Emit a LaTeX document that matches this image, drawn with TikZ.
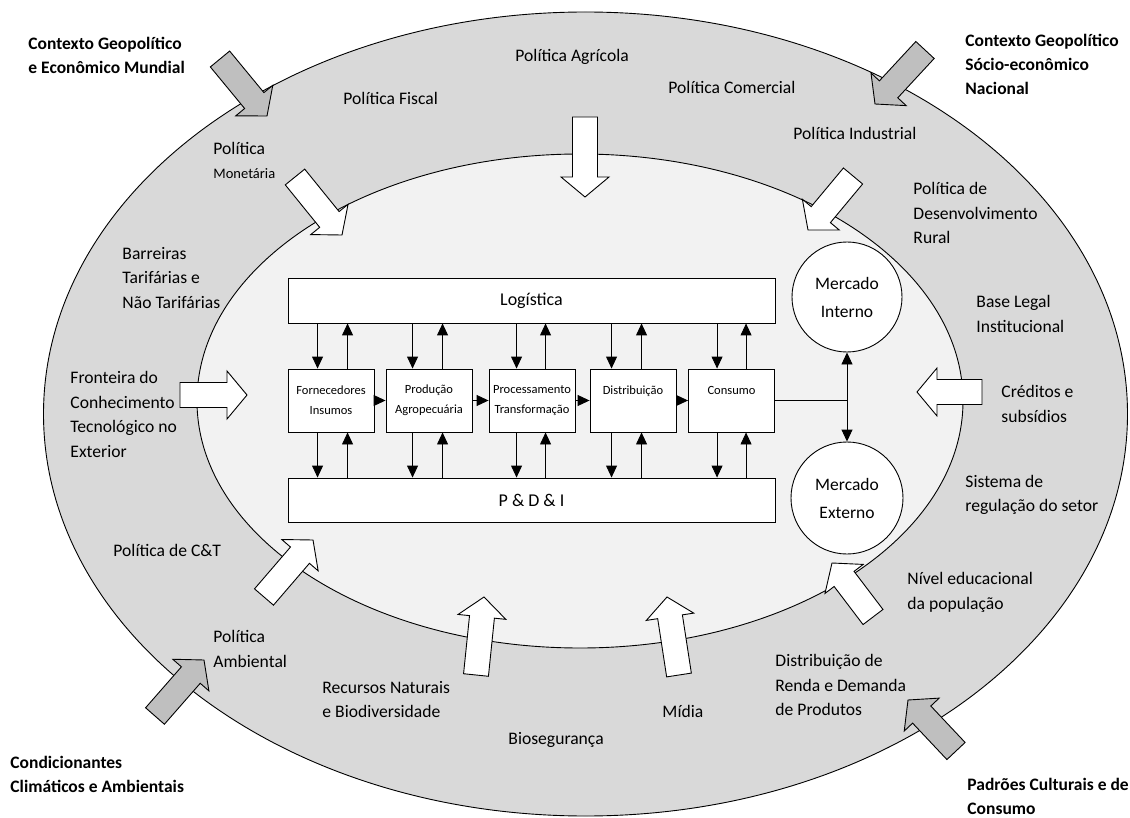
\documentclass[tikz,border=0pt]{standalone}
\usepackage{fontspec}
\setmainfont{Carlito}
\usetikzlibrary{arrows.meta,calc}
\definecolor{ring}{HTML}{D9D9D9}
\definecolor{core}{HTML}{F2F2F2}
\definecolor{garrow}{HTML}{BFBFBF}
\newcommand\myblk[4]{%
  \coordinate (#1-t) at (#3);
  \coordinate (#1-p) at (#4);
  \coordinate (#1-h) at ($(#1-p)!20pt!(#1-t)$);
  \draw[fill=#2, line join=miter]
    ($(#1-t)!12.5pt!90:(#1-p)$) -- ($(#1-h)!12.5pt!90:(#1-p)$) --
    ($(#1-h)!24pt!90:(#1-p)$) -- (#1-p) --
    ($(#1-h)!24pt!-90:(#1-p)$) -- ($(#1-h)!12.5pt!-90:(#1-p)$) --
    ($(#1-t)!12.5pt!-90:(#1-p)$) -- cycle;
}
\begin{document}
\begin{tikzpicture}[x=1pt,y=-1pt, line width=0.9pt,
  lbl/.style={anchor=west, inner sep=0pt, align=left, font=\fontsize{17.6}{24.5}\selectfont},
  blbl/.style={anchor=west, inner sep=0pt, align=left, font=\fontsize{17.5}{24}\selectfont\bfseries},
  cbox/.style={draw, fill=white, minimum width=86pt, minimum height=63pt, inner sep=0pt, align=center, font=\fontsize{12.5}{20}\selectfont},
  wbox/.style={draw, fill=white, minimum width=487pt, minimum height=45pt, inner sep=0pt, font=\fontsize{18}{22}\selectfont},
  mk/.style={circle, draw, fill=white, minimum size=110pt, inner sep=0pt, align=center, font=\fontsize{17.5}{28}\selectfont},
  arr/.style={-{Triangle[length=12pt,width=11pt]}}]
\useasboundingbox (0,0) rectangle (1130,818);

% rings
\draw[fill=ring] (585.5,414) ellipse [x radius=542pt, y radius=402pt];
\draw[fill=core] (580,401) ellipse [x radius=383pt, y radius=247pt];

% gray block arrows (outer influences)
\myblk{g1}{garrow}{220,59}{267,116}
\myblk{g2}{garrow}{925,50}{875,104}
\myblk{g3}{garrow}{155,716}{204,660}
\myblk{g4}{garrow}{956,751}{908,700}

% white block arrows (ring influences)
\myblk{w1}{white}{585,117}{585,197}
\myblk{w2}{white}{295,177}{342,235}
\myblk{w3}{white}{853,176}{808,230}
\myblk{w4}{white}{180,395}{247,395}
\myblk{w5}{white}{982,392}{917,392}
\myblk{w6}{white}{264,597}{313,540}
\myblk{w7}{white}{476,675}{484,597}
\myblk{w8}{white}{679,675}{667,597}
\myblk{w9}{white}{873,617}{832,563}

% chain
\node[wbox] (log) at (531.5,300.5) {Logística};
\node[wbox, minimum height=44pt] (pdi) at (531.5,500) {P \& D \& I};
\node[cbox] (b1) at (331,400.5) {Fornecedores\\Insumos};
\node[cbox] (b2) at (429,400.5) {Produção\\Agropecuária};
\node[cbox] (b3) at (532,400.5) {Processamento\\Transformação};
\node[cbox] (b4) at (633,400.5) {Distribuição\\~};
\node[cbox] (b5) at (731.5,400.5) {Consumo\\~};

\draw[arr] (b1.east) -- (b2.west);
\draw[arr] (b2.east) -- (b3.west);
\draw[arr] (b3.east) -- (b4.west);
\draw[arr] (b4.east) -- (b5.west);

\foreach \b/\d/\u in {b1/30/60, b2/27/57, b3/28/57, b4/22/52, b5/29/58} {
  \coordinate (\b-d) at ($(\b.north west)+(\d,0)$);
  \coordinate (\b-u) at ($(\b.north west)+(\u,0)$);
  \draw[arr] (log.south -| \b-d) -- (\b.north -| \b-d);
  \draw[arr] (\b.north -| \b-u) -- (log.south -| \b-u);
  \draw[arr] (\b.south -| \b-d) -- (pdi.north -| \b-d);
  \draw[arr] (pdi.north -| \b-u) -- (\b.south -| \b-u);
}

% markets
\node[mk] (mi) at (847,297) {Mercado\\Interno};
\node[mk, minimum size=112pt] (me) at (847,498) {Mercado\\Externo};
\coordinate (j) at (847,400.5);
\draw (b5.east) -- (j);
\draw[arr] (j) -- (mi.south);
\draw[arr] (j) -- (me.north);

% outer context labels
\node[blbl] (ctxm) at (28,55) {Contexto Geopolítico\\e Econômico Mundial};
\node[blbl] (ctxn) at (965,64) {Contexto Geopolítico\\Sócio-econômico\\Nacional};
\node[blbl] (cond) at (10,774.5) {Condicionantes\\Climáticos e Ambientais};
\node[blbl] (padr) at (967,796) {Padrões Culturais e de\\Consumo};

% ring labels
\node[lbl] (agr) at (515,57) {Política Agrícola};
\node[lbl] (com) at (668,87) {Política Comercial};
\node[lbl] (fisc) at (343,98) {Política Fiscal};
\node[lbl] (ind) at (793,133) {Política Industrial};
\node[lbl] (mon) at (213,160.5) {Política\\{\fontsize{14.5}{24}\selectfont Monetária}};
\node[lbl] (rur) at (913,213) {Política de\\Desenvolvimento\\Rural};
\node[lbl] (barr) at (122,278) {Barreiras\\Tarifárias e\\Não Tarifárias};
\node[lbl] (base) at (976,314) {Base Legal\\Institucional};
\node[lbl] (fron) at (70,414.5) {Fronteira do\\Conhecimento\\Tecnológico no\\Exterior};
\node[lbl] (cred) at (1001,404) {Créditos e\\subsídios};
\node[lbl] (sist) at (965,495) {Sistema de\\regulação do setor};
\node[lbl] (ct) at (113,550) {Política de C\&T};
\node[lbl] (niv) at (907,592.5) {Nível educacional\\da população};
\node[lbl] (amb) at (213,649) {Política\\Ambiental};
\node[lbl] (rec) at (322,699.5) {Recursos Naturais\\e Biodiversidade};
\node[lbl] (dist) at (775,685) {Distribuição de\\Renda e Demanda\\de Produtos};
\node[lbl] (bio) at (508,740) {Biosegurança};
\node[lbl] (mid) at (662,711) {Mídia};
\end{tikzpicture}
\end{document}
